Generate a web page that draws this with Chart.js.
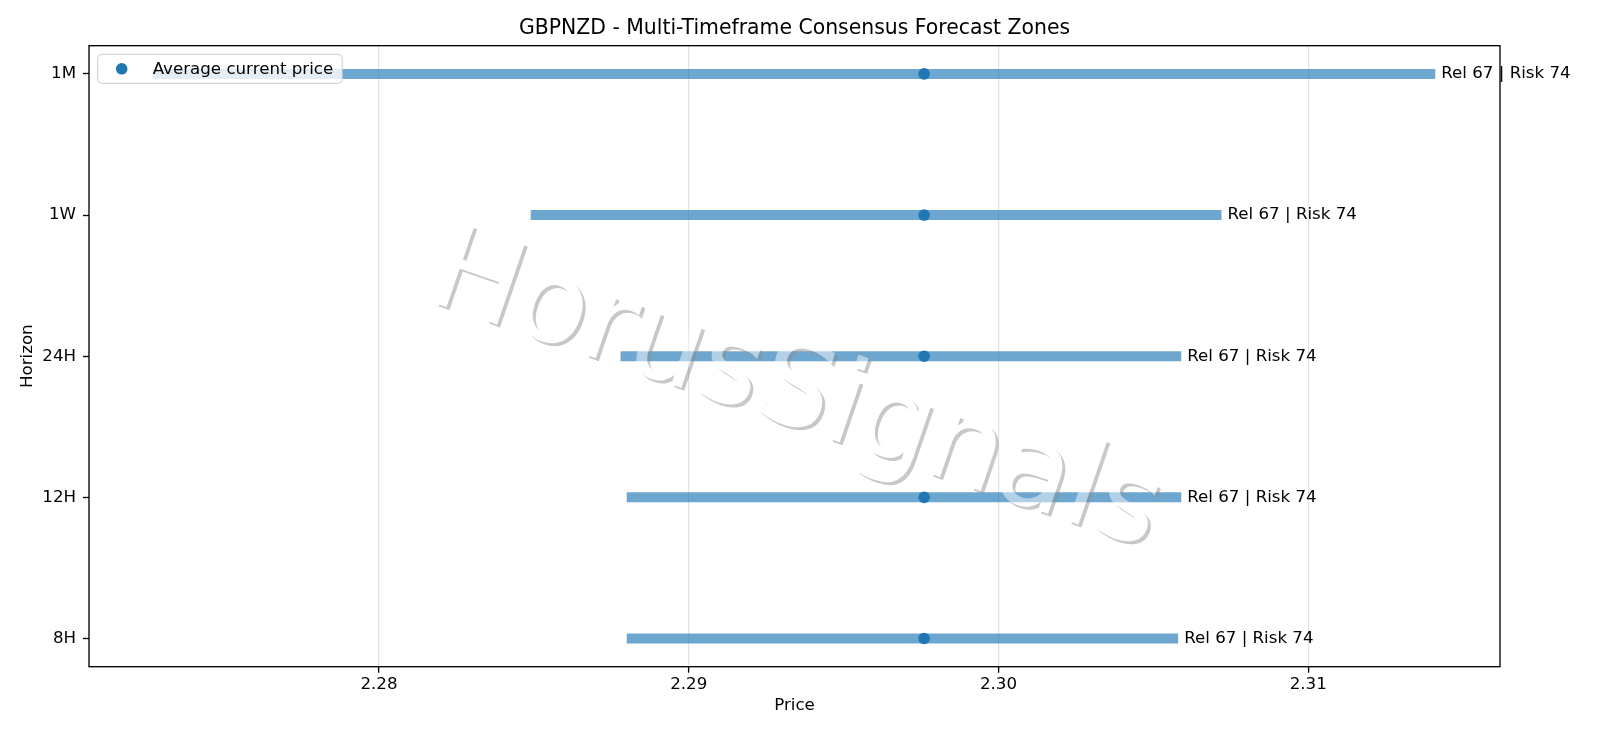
<!DOCTYPE html>
<html>
<head>
<meta charset="utf-8">
<script src="https://cdn.jsdelivr.net/npm/chart.js@4/dist/chart.umd.min.js"></script>
<style>
  html, body { margin: 0; padding: 0; background: #fff; }
  #wrap { width: 1600px; height: 738px; }
</style>
</head>
<body>
<div id="wrap"><canvas id="forecastChart" width="1600" height="738"></canvas></div>
<script>
// horizons listed top to bottom
const horizons = ["1M", "1W", "24H", "12H", "8H"];
const zoneLow = [2.2727, 2.2849, 2.2878, 2.2880, 2.2880];
const zoneHigh = [2.3141, 2.3072, 2.3059, 2.3059, 2.3058];
const currentPrice = [2.2976, 2.2976, 2.2976, 2.2976, 2.2976];
const reliability = [67, 67, 67, 67, 67];
const riskScore = [74, 74, 74, 74, 74];
const priceTicks = [2.28, 2.29, 2.30, 2.31];

const FONT = "DejaVu Sans";
const BLUE = "#1f77b4";

Chart.defaults.font.family = FONT;
Chart.defaults.font.size = 16.67;
Chart.defaults.color = "#000";

const zoneSets = horizons.map((h, i) => ({
    type: "scatter",
    label: "zone " + h,
    data: [{ x: zoneLow[i], y: i }, { x: zoneHigh[i], y: i }],
    showLine: true,
    borderColor: "rgba(31,119,180,0.65)",
    borderWidth: 10,
    borderCapStyle: "butt",
    pointRadius: 0,
    order: 2,
}));

const priceSet = {
    type: "scatter",
    label: "Average current price",
    data: horizons.map((h, i) => ({ x: currentPrice[i], y: i })),
    backgroundColor: BLUE,
    borderWidth: 0,
    pointRadius: 5.8,
    order: 1,
};

// labels, watermark, frame and legend on top of the marks
const overlay = {
    id: "overlay",
    afterDatasetsDraw(chart) {
        const { ctx, chartArea: ca, scales } = chart;
        const xs = scales.x, ys = scales.y;

        ctx.save();
        ctx.font = "16.67px " + FONT;
        ctx.fillStyle = "#000";
        ctx.textAlign = "left";
        ctx.textBaseline = "middle";
        horizons.forEach((h, i) => {
            const px = xs.getPixelForValue(zoneHigh[i]) + 6;
            const py = ys.getPixelForValue(i);
            ctx.fillText("Rel " + reliability[i] + " | Risk " + riskScore[i], px, py);
        });
        ctx.restore();

        // watermark
        const wm = document.createElement("canvas");
        wm.width = chart.width;
        wm.height = chart.height;
        const w = wm.getContext("2d");
        w.font = "117px " + FONT;
        w.textAlign = "center";
        w.textBaseline = "alphabetic";
        const ang = 19 * Math.PI / 180;
        const cx = chart.width * 0.491, cy = chart.height * 0.574;
        w.save();
        w.translate(cx + 3, cy + 3);
        w.rotate(ang);
        w.fillStyle = "rgb(140,140,140)";
        w.fillText("HorusSignals", 0, 0);
        w.restore();
        w.save();
        w.translate(cx, cy);
        w.rotate(ang);
        w.fillStyle = "#fff";
        w.fillText("HorusSignals", 0, 0);
        w.restore();
        ctx.save();
        ctx.globalAlpha = 0.48;
        ctx.drawImage(wm, 0, 0);
        ctx.restore();

        // frame
        ctx.save();
        ctx.strokeStyle = "#000";
        ctx.lineWidth = 1.33;
        ctx.strokeRect(ca.left, ca.top, ca.right - ca.left, ca.bottom - ca.top);
        ctx.restore();

        // legend
        ctx.save();
        ctx.font = "16.67px " + FONT;
        const txt = priceSet.label;
        const bx = ca.left + 8.7, by = ca.top + 8.6;
        const bw = 55 + ctx.measureText(txt).width + 9, bh = 29;
        ctx.beginPath();
        ctx.roundRect(bx, by, bw, bh, 4);
        ctx.fillStyle = "rgba(255,255,255,0.8)";
        ctx.fill();
        ctx.strokeStyle = "#cccccc";
        ctx.lineWidth = 1;
        ctx.stroke();
        ctx.beginPath();
        ctx.arc(bx + 24, by + bh / 2, 5.8, 0, Math.PI * 2);
        ctx.fillStyle = BLUE;
        ctx.fill();
        ctx.fillStyle = "#000";
        ctx.textBaseline = "middle";
        ctx.fillText(txt, bx + 55, by + bh / 2 + 0.5);
        ctx.restore();
    },
};

new Chart(document.getElementById("forecastChart"), {
    type: "scatter",
    data: { datasets: [...zoneSets, priceSet] },
    options: {
        responsive: false,
        devicePixelRatio: 1,
        animation: false,
        layout: { padding: { left: 0, right: 100, top: 0, bottom: 0 } },
        plugins: {
            legend: { display: false },
            tooltip: { enabled: false },
            title: {
                display: true,
                text: "GBPNZD - Multi-Timeframe Consensus Forecast Zones",
                fullSize: false,
                font: { size: 20.4, weight: "normal" },
                color: "#000",
                padding: { top: 16.4, bottom: 4.8 },
            },
        },
        scales: {
            x: {
                type: "linear",
                min: 2.27064,
                max: 2.31619,
                afterBuildTicks: (s) => { s.ticks = priceTicks.map((v) => ({ value: v })); },
                afterFit: (s) => { s.height = 71.3; },
                ticks: {
                    padding: 2,
                    callback: (v) => Number(v).toFixed(2),
                },
                grid: {
                    color: "#e2e2e2",
                    lineWidth: 1.2,
                    tickColor: "#000",
                    tickWidth: 1.33,
                    tickLength: 6,
                },
                border: { display: false },
                title: {
                    display: true,
                    text: "Price",
                    padding: { top: 0, bottom: 22 },
                },
            },
            y: {
                type: "linear",
                reverse: true,
                min: -0.2,
                max: 4.2,
                afterBuildTicks: (s) => { s.ticks = horizons.map((h, i) => ({ value: i })); },
                afterFit: (s) => { s.width = 89; },
                ticks: {
                    padding: 7,
                    callback: (v) => horizons[v],
                },
                grid: {
                    drawOnChartArea: false,
                    tickColor: "#000",
                    tickWidth: 1.33,
                    tickLength: 6,
                },
                border: { display: false },
                title: {
                    display: true,
                    text: "Horizon",
                    padding: { top: 17.5, bottom: 0 },
                },
            },
        },
    },
    plugins: [overlay],
});
</script>
</body>
</html>
